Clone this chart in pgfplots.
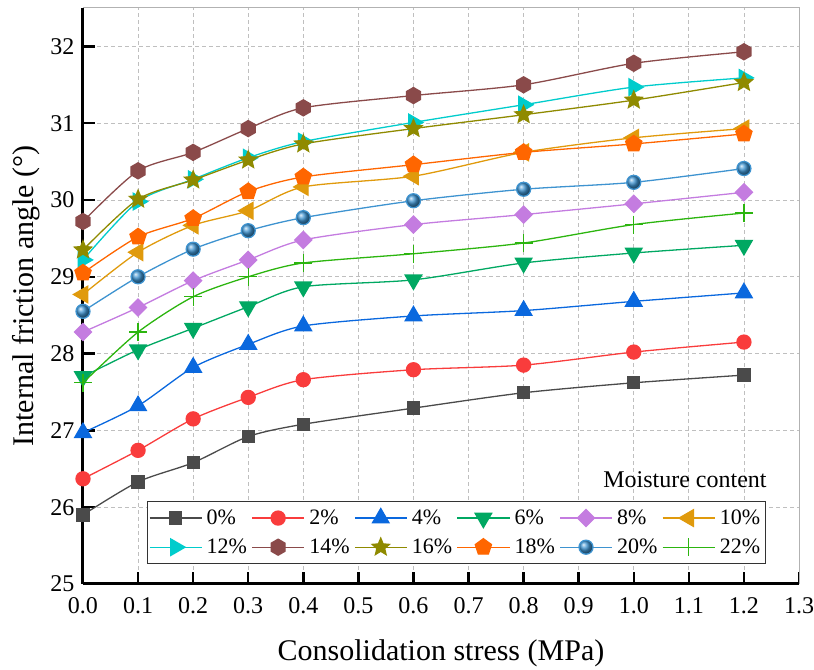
\documentclass[border=0pt]{standalone}
\usepackage{fontspec}
\setmainfont{Liberation Serif}
\usepackage{pgfplots}
\pgfplotsset{compat=1.18}

% filled hexagon and filled star marks (Origin style)
\pgfdeclareplotmark{hexagon*}{%
  \pgfpathmoveto{\pgfpointpolar{90}{\pgfplotmarksize}}%
  \pgfpathlineto{\pgfpointpolar{150}{\pgfplotmarksize}}%
  \pgfpathlineto{\pgfpointpolar{210}{\pgfplotmarksize}}%
  \pgfpathlineto{\pgfpointpolar{270}{\pgfplotmarksize}}%
  \pgfpathlineto{\pgfpointpolar{330}{\pgfplotmarksize}}%
  \pgfpathlineto{\pgfpointpolar{30}{\pgfplotmarksize}}%
  \pgfpathclose\pgfusepathqfillstroke}
\pgfdeclareplotmark{fstar}{%
  \pgfpathmoveto{\pgfpointpolar{90}{\pgfplotmarksize}}%
  \pgfpathlineto{\pgfpointpolar{126}{0.45\pgfplotmarksize}}%
  \pgfpathlineto{\pgfpointpolar{162}{\pgfplotmarksize}}%
  \pgfpathlineto{\pgfpointpolar{198}{0.45\pgfplotmarksize}}%
  \pgfpathlineto{\pgfpointpolar{234}{\pgfplotmarksize}}%
  \pgfpathlineto{\pgfpointpolar{270}{0.45\pgfplotmarksize}}%
  \pgfpathlineto{\pgfpointpolar{306}{\pgfplotmarksize}}%
  \pgfpathlineto{\pgfpointpolar{342}{0.45\pgfplotmarksize}}%
  \pgfpathlineto{\pgfpointpolar{18}{\pgfplotmarksize}}%
  \pgfpathlineto{\pgfpointpolar{54}{0.45\pgfplotmarksize}}%
  \pgfpathclose\pgfusepathqfillstroke}

\definecolor{c0}{HTML}{4A4A4A}
\definecolor{c2}{HTML}{F93C3C}
\definecolor{c4}{HTML}{0A68DE}
\definecolor{c6}{HTML}{00A862}
\definecolor{c8}{HTML}{C47CE0}
\definecolor{c10}{HTML}{E09A0C}
\definecolor{c12}{HTML}{00CCCC}
\definecolor{c14}{HTML}{8A4A4A}
\definecolor{c16}{HTML}{8F8A00}
\definecolor{c18}{HTML}{FF6600}
\definecolor{c20}{HTML}{3E93D0}
\definecolor{c22}{HTML}{2CB50F}

\begin{document}
\begin{tikzpicture}
\begin{axis}[
    scale only axis,
    width=716pt, height=576pt,
    xmin=0, xmax=1.3, ymin=25, ymax=32.5,
    axis lines*=left,
    axis line style={line width=3pt, -},
    tick align=inside,
    major tick length=12pt,
    tick style={black, line width=2.5pt},
    xtick={0,0.1,0.2,0.3,0.4,0.5,0.6,0.7,0.8,0.9,1.0,1.1,1.2,1.3},
    ytick={25,26,27,28,29,30,31,32},
    xticklabel style={/pgf/number format/.cd, fixed, fixed zerofill, precision=1},
    /pgf/number format/assume math mode=true,
    ticklabel style={font=\fontsize{24}{28}\selectfont},
    xticklabel shift=10pt,
    yticklabel shift=5pt,
    grid=major,
    major grid style={gray!50, line width=0.8pt, dash pattern=on 4pt off 3pt},
    xlabel={Consolidation stress (MPa)},
    ylabel={Internal friction angle (°)},
    label style={font=\fontsize{30}{35}\selectfont},
    xlabel shift=19pt,
    ylabel shift=4pt,
    clip mode=individual,
    every axis plot/.append style={line width=1.3pt, smooth, tension=0.45},
    legend columns=6,
    legend cell align=left,
    legend image code/.code={\draw[mark repeat=2, mark phase=2] plot coordinates {(0pt,0pt) (26pt,0pt) (52pt,0pt)};},
    legend style={at={(0.954,0.144)}, anchor=north east, draw=black!80, line width=0.9pt,
        font=\fontsize{22}{26}\selectfont, inner xsep=1pt, inner ysep=5.5pt, row sep=7pt,
        nodes={inner xsep=4.5pt, inner ysep=3pt},
        /tikz/every even column/.append style={column sep=0pt}},
    after end axis/.code={
        \draw[gray!60, line width=1pt] (rel axis cs:0,1) -- (rel axis cs:1,1) -- (rel axis cs:1,0);
        \node[anchor=base east, inner sep=0pt, font=\fontsize{24}{28}\selectfont] at (rel axis cs:0.955,0.167) {Moisture content};
    },
]
\addplot[color=c0, mark=square*, mark size=6pt, mark options={fill=c0, draw=c0}] coordinates {
 (0,25.90) (0.1,26.33) (0.2,26.58) (0.3,26.92) (0.4,27.08) (0.6,27.29) (0.8,27.49) (1.0,27.62) (1.2,27.72)};
\addlegendentry{0\%}
\addplot[color=c2, mark=*, mark size=7pt, mark options={fill=c2, draw=c2}] coordinates {
 (0,26.37) (0.1,26.74) (0.2,27.15) (0.3,27.43) (0.4,27.66) (0.6,27.79) (0.8,27.85) (1.0,28.02) (1.2,28.15)};
\addlegendentry{2\%}
\addplot[color=c4, mark=triangle*, mark size=9.5pt, mark options={fill=c4, draw=c4}] coordinates {
 (0,26.97) (0.1,27.32) (0.2,27.82) (0.3,28.12) (0.4,28.36) (0.6,28.49) (0.8,28.56) (1.0,28.68) (1.2,28.79)};
\addlegendentry{4\%}
\addplot[color=c6, mark=triangle*, mark size=9.5pt, mark options={fill=c6, draw=c6, rotate=180}] coordinates {
 (0,27.70) (0.1,28.05) (0.2,28.33) (0.3,28.61) (0.4,28.87) (0.6,28.96) (0.8,29.18) (1.0,29.31) (1.2,29.41)};
\addlegendentry{6\%}
\addplot[color=c8, mark=square*, mark size=6pt, mark options={fill=c8, draw=c8, rotate=45}] coordinates {
 (0,28.28) (0.1,28.60) (0.2,28.95) (0.3,29.22) (0.4,29.48) (0.6,29.68) (0.8,29.81) (1.0,29.95) (1.2,30.10)};
\addlegendentry{8\%}
\addplot[color=c10, mark=triangle*, mark size=9.5pt, mark options={fill=c10, draw=c10, rotate=90}] coordinates {
 (0,28.77) (0.1,29.32) (0.2,29.67) (0.3,29.86) (0.4,30.17) (0.6,30.31) (0.8,30.62) (1.0,30.81) (1.2,30.93)};
\addlegendentry{10\%}
\addplot[color=c12, mark=triangle*, mark size=9.5pt, mark options={fill=c12, draw=c12, rotate=-90}] coordinates {
 (0,29.22) (0.1,29.98) (0.2,30.27) (0.3,30.55) (0.4,30.76) (0.6,31.01) (0.8,31.24) (1.0,31.47) (1.2,31.59)};
\addlegendentry{12\%}
\addplot[color=c14, mark=hexagon*, mark size=8pt, mark options={fill=c14, draw=c14}] coordinates {
 (0,29.72) (0.1,30.38) (0.2,30.62) (0.3,30.93) (0.4,31.20) (0.6,31.36) (0.8,31.50) (1.0,31.78) (1.2,31.93)};
\addlegendentry{14\%}
\addplot[color=c16, mark=fstar, mark size=9pt, mark options={fill=c16, draw=c16}] coordinates {
 (0,29.35) (0.1,30.01) (0.2,30.26) (0.3,30.52) (0.4,30.73) (0.6,30.93) (0.8,31.11) (1.0,31.30) (1.2,31.53)};
\addlegendentry{16\%}
\addplot[color=c18, mark=pentagon*, mark size=8.5pt, mark options={fill=c18, draw=c18}] coordinates {
 (0,29.05) (0.1,29.52) (0.2,29.76) (0.3,30.11) (0.4,30.30) (0.6,30.46) (0.8,30.62) (1.0,30.73) (1.2,30.86)};
\addlegendentry{18\%}
\addplot[color=c20, mark=ball, mark size=7pt, mark options={ball color=c20, draw=none}] coordinates {
 (0,28.55) (0.1,29.00) (0.2,29.36) (0.3,29.60) (0.4,29.77) (0.6,29.99) (0.8,30.14) (1.0,30.23) (1.2,30.41)};
\addlegendentry{20\%}
\addplot[color=c22, mark=+, mark size=9pt, mark options={draw=c22, line width=1.2pt}] coordinates {
 (0,27.62) (0.1,28.28) (0.2,28.74) (0.3,29.00) (0.4,29.18) (0.6,29.30) (0.8,29.44) (1.0,29.68) (1.2,29.83)};
\addlegendentry{22\%}
\end{axis}
\pgfresetboundingbox
\path ([shift={(-83pt,-86pt)}]current axis.south west) rectangle ([shift={(15pt,8pt)}]current axis.north east);
\end{tikzpicture}
\end{document}
